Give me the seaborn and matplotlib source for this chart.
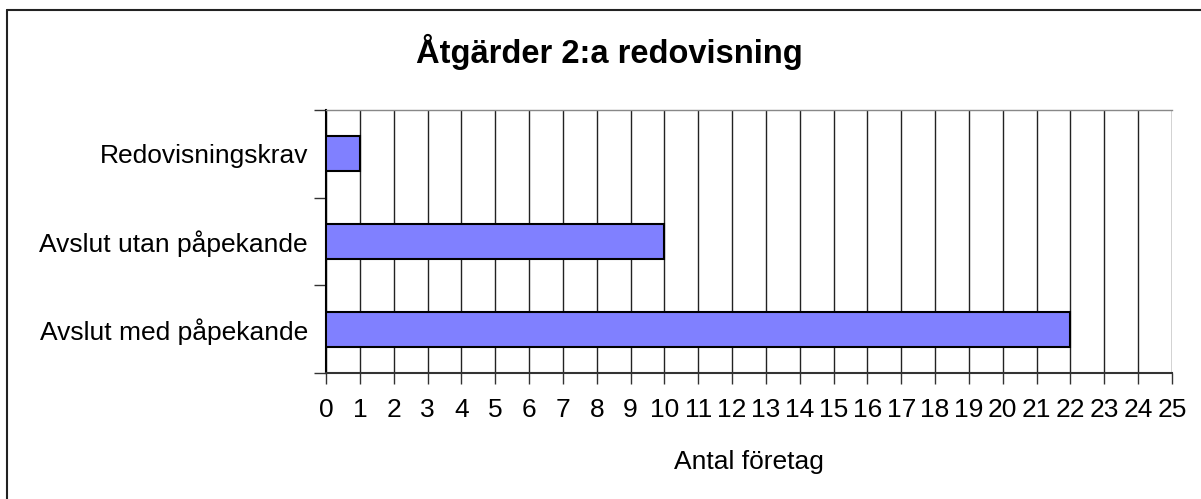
import matplotlib
matplotlib.use("Agg")
import matplotlib.pyplot as plt
from matplotlib.lines import Line2D
import seaborn as sns
import pandas as pd

categories = ["Redovisningskrav", "Avslut utan påpekande", "Avslut med påpekande"]
values = [1, 10, 22]
x_ticks = list(range(0, 26))
title = "Åtgärder 2:a redovisning"
xlabel = "Antal företag"

sns.set_theme(style="white")
plt.rcParams['font.family'] = ['Liberation Sans', 'DejaVu Sans']
plt.rcParams['text.color'] = 'black'
plt.rcParams['axes.labelcolor'] = 'black'
plt.rcParams['xtick.color'] = 'black'
plt.rcParams['ytick.color'] = 'black'

W, H = 1201, 499
fig = plt.figure(figsize=(W / 100, H / 100), dpi=100)
ax = fig.add_axes([326 / W, 1 - 373 / H, (1172 - 326) / W, (373 - 110) / H])

df = pd.DataFrame({"cat": categories, "val": values})
sns.barplot(data=df, x="val", y="cat", orient="h", color="#8080FF", saturation=1,
            width=0.4, edgecolor="black", linewidth=1.5, ax=ax, zorder=3)

ax.set_xlim(0, 25)
ax.set_ylim(2.5, -0.5)
ax.set_xticks(x_ticks)
ax.set_xticklabels([str(t) for t in x_ticks], fontsize=19)
ax.tick_params(axis="x", direction="out", length=8, width=1, color="#333333",
               labelcolor="black", pad=10, bottom=True)
for t in x_ticks:
    ax.axvline(t, color="#222222", lw=1, zorder=1)

ax.set_yticks([-0.5, 0.5, 1.5, 2.5])
ax.set_yticklabels([])
ax.set_yticks([0, 1, 2], minor=True)
ax.set_yticklabels(categories, minor=True, fontsize=19)
ax.tick_params(axis="y", which="major", direction="out", length=9, width=1, color="#333333", left=True)
ax.tick_params(axis="y", which="minor", length=0, pad=13, labelcolor="black")

ax.set_xlabel(xlabel, fontsize=19, labelpad=20, color="black")
ax.set_ylabel("")

ax.spines["right"].set_visible(False)
ax.spines["top"].set_color("#888888")
ax.spines["top"].set_linewidth(1)
ax.spines["left"].set_color("black")
ax.spines["left"].set_linewidth(1.5)
ax.spines["bottom"].set_color("#333333")
ax.spines["bottom"].set_linewidth(1.5)

fig.text(609 / W, 1 - 52 / H, title, ha="center", va="center", fontsize=23.5,
         fontweight="bold", color="black")

# outer chart border (top and left visible)
fig.add_artist(Line2D([7 / W, 1], [1 - 10 / H, 1 - 10 / H], color="#222222", lw=1.5, transform=fig.transFigure))
fig.add_artist(Line2D([7 / W, 7 / W], [0, 1 - 10 / H], color="#222222", lw=1.5, transform=fig.transFigure))

fig.savefig("out.png", dpi=100)
